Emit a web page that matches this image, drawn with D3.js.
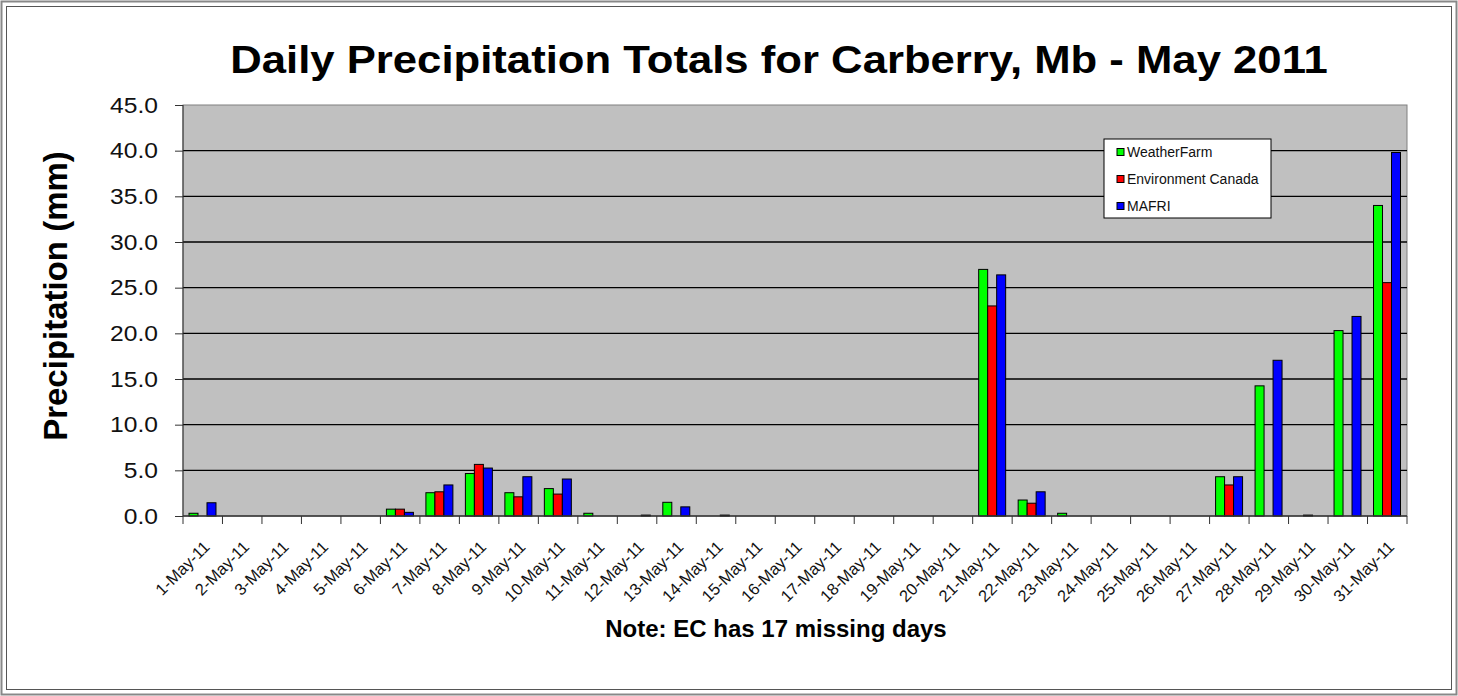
<!DOCTYPE html>
<html>
<head>
<meta charset="utf-8">
<script src="https://cdn.jsdelivr.net/npm/d3@7"></script>
<style>
  body { margin: 0; background: #fff; }
  text { font-family: "Liberation Sans", Arial, sans-serif; }
</style>
</head>
<body>
<div id="chart"></div>
<script>
// daily totals, mm (0 = no bar)
var days = d3.range(1, 32).map(function(d){ return d + "-May-11"; });
var weatherFarm = [0.3,0,0,0,0,0.75,2.55,4.65,2.55,3.0,0.3,0,1.5,0,0,0,0,0,0,0,27.0,1.75,0.3,0,0,0,4.3,14.25,0,20.3,34.0];
var envCanada   = [0,0,0,0,0,0.75,2.65,5.65,2.1,2.4,0,0,0,0,0,0,0,0,0,0,23.0,1.4,0,0,0,0,3.4,0,0.1,0,25.55];
var mafri       = [1.45,0,0,0,0,0.4,3.4,5.25,4.3,4.05,0,0.1,1.0,0.1,0,0,0,0,0,0,26.4,2.65,0,0,0,0,4.3,17.05,0,21.85,39.8];
var seriesNames = ["WeatherFarm", "Environment Canada", "MAFRI"];
var seriesColors = ["#00ff00", "#ff0000", "#0000ff"];
var yTicks = [0,5,10,15,20,25,30,35,40,45];

var W = 1458, H = 696;
var m = {top: 105, right: 51, bottom: 180, left: 183};
var x0 = m.left, x1 = W - m.right, yTop = m.top, yBot = 516;

var svg = d3.select("#chart").append("svg")
    .attr("width", W)
    .attr("height", H);

// outer frame
svg.append("rect").attr("x", 1.5).attr("y", 1.5).attr("width", W - 3).attr("height", H - 3)
   .attr("fill", "#fff").attr("stroke", "#888").attr("stroke-width", 2);
svg.append("rect").attr("x", 6.5).attr("y", 6.5).attr("width", W - 13).attr("height", H - 13)
   .attr("fill", "none").attr("stroke", "#555").attr("stroke-width", 1);

var x = d3.scaleBand().domain(days).range([x0, x1]).paddingInner(0).paddingOuter(0);
var xs = d3.scaleBand().domain(seriesNames).range([6, x.bandwidth() - 6.5]);
var y = d3.scaleLinear().domain([0, 45]).range([yBot, yTop]);

// plot area
svg.append("rect").attr("x", x0).attr("y", yTop).attr("width", x1 - x0).attr("height", yBot - yTop)
   .attr("fill", "#c0c0c0").attr("stroke", "#808080").attr("stroke-width", 1);

// gridlines
svg.append("g")
   .selectAll("line")
   .data(yTicks.filter(function(t){ return t > 0 && t < 45; }))
   .join("line")
   .attr("x1", x0).attr("x2", x1)
   .attr("y1", function(d){ return y(d); }).attr("y2", function(d){ return y(d); })
   .attr("stroke", "#000").attr("stroke-width", 1.3);

// bars
var rows = [];
days.forEach(function(d, i){
  [weatherFarm, envCanada, mafri].forEach(function(s, j){
    if (s[i] > 0) rows.push({day: d, series: seriesNames[j], color: seriesColors[j], value: s[i]});
  });
});
svg.append("g")
   .selectAll("rect")
   .data(rows)
   .join("rect")
   .attr("x", function(d){ return x(d.day) + xs(d.series); })
   .attr("y", function(d){ return y(d.value); })
   .attr("width", xs.bandwidth())
   .attr("height", function(d){ return yBot - y(d.value); })
   .attr("fill", function(d){ return d.color; })
   .attr("stroke", "#000").attr("stroke-width", 1);

// y axis
var yAxis = svg.append("g")
   .attr("transform", "translate(" + x0 + ",0)")
   .call(d3.axisLeft(y).tickValues(yTicks).tickSize(8).tickFormat(d3.format(".1f")));
yAxis.select(".domain").attr("stroke", "#333").attr("d", "M0," + yTop + "V" + yBot);
yAxis.selectAll(".tick line").attr("stroke", "#333");
yAxis.selectAll(".tick text")
   .attr("fill", "#111")
   .style("font-size", "22px")
   .attr("transform", "scale(1.12,1)")
   .attr("text-anchor", "end")
   .attr("x", -25 / 1.12);

// x axis
var xAxis = svg.append("g")
   .attr("transform", "translate(0," + yBot + ")");
xAxis.append("line").attr("x1", x0).attr("x2", x1).attr("stroke", "#333").attr("stroke-width", 1.5);
xAxis.selectAll("line.tk")
   .data(d3.range(0, 32))
   .join("line")
   .attr("class", "tk")
   .attr("x1", function(i){ return x0 + i * x.step(); })
   .attr("x2", function(i){ return x0 + i * x.step(); })
   .attr("y1", 0).attr("y2", 8)
   .attr("stroke", "#333");
xAxis.selectAll("text")
   .data(days)
   .join("text")
   .attr("transform", function(d){ return "translate(" + (x(d) + x.bandwidth() / 2 + 8) + ",32) rotate(-45)"; })
   .attr("text-anchor", "end")
   .attr("fill", "#111")
   .style("font-size", "16.5px")
   .text(function(d){ return d; });

// title
svg.append("text")
   .attr("transform", "translate(779,73) scale(1.12,1)")
   .attr("text-anchor", "middle")
   .style("font-size", "39px").style("font-weight", "bold")
   .text("Daily Precipitation Totals for Carberry, Mb - May 2011");

// y label
svg.append("text")
   .attr("transform", "translate(67,296) rotate(-90)")
   .attr("text-anchor", "middle")
   .style("font-size", "33px").style("font-weight", "bold")
   .text("Precipitation (mm)");

// note
svg.append("text")
   .attr("x", 776).attr("y", 637)
   .attr("text-anchor", "middle")
   .style("font-size", "24px").style("font-weight", "bold")
   .text("Note: EC has 17 missing days");

// legend
var lg = svg.append("g").attr("transform", "translate(1104,139)");
lg.append("rect").attr("width", 167).attr("height", 79)
  .attr("fill", "#fff").attr("stroke", "#000").attr("stroke-width", 1);
var items = lg.selectAll("g.item")
  .data(seriesNames)
  .join("g")
  .attr("class", "item")
  .attr("transform", function(d, i){ return "translate(13," + (13 + i * 27) + ")"; });
items.append("rect").attr("y", -3.5).attr("width", 7).attr("height", 7)
  .attr("fill", function(d, i){ return seriesColors[i]; })
  .attr("stroke", "#000").attr("stroke-width", 1);
items.append("text").attr("x", 10).attr("y", 5)
  .style("font-size", "14px").attr("fill", "#111")
  .text(function(d){ return d; });
</script>
</body>
</html>
